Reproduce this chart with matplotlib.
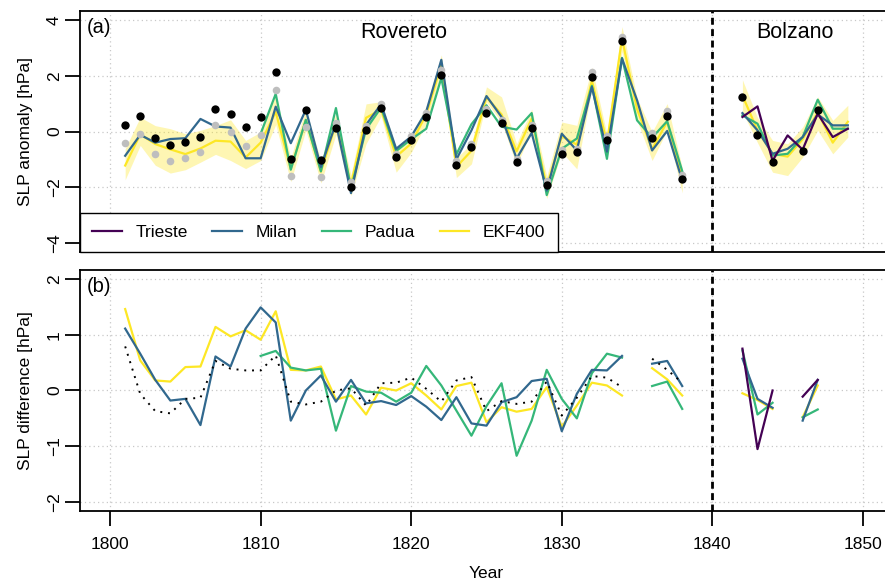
import numpy as np
import matplotlib.pyplot as plt

plt.rcParams['font.family'] = ['Liberation Sans', 'DejaVu Sans']

nan = np.nan

# ---- top panel: SLP anomalies, Rovereto period ----
years_rov = np.arange(1801, 1839)
obs_rov = [0.25, 0.54, -0.25, -0.48, -0.39, -0.18, 0.81, 0.61, 0.15, 0.51,
           2.12, -0.97, 0.77, -1.01, 0.12, -1.99, 0.06, 0.84, -0.90, -0.30,
           0.53, 2.04, -1.19, -0.55, 0.66, 0.31, -1.09, 0.13, -1.91, -0.82,
           -0.74, 1.96, -0.32, 3.24, nan, -0.23, 0.55, -1.72]
obs_rov_grey = [-0.41, -0.09, -0.81, -1.07, -0.94, -0.73, 0.25, 0.00, -0.51, -0.13,
                1.48, -1.60, 0.16, -1.64, 0.30, -1.81, 0.19, 0.97, -0.80, -0.17,
                0.67, 2.19, -1.05, -0.44, 0.82, 0.43, -0.98, 0.22, -1.76, -0.65,
                -0.62, 2.14, -0.17, 3.40, nan, -0.05, 0.72, -1.56]
milan_rov = [-0.87, -0.12, -0.40, -0.27, -0.24, 0.45, 0.18, 0.14, -0.96, -0.96,
             0.89, -0.42, 0.78, -1.27, 0.30, -2.21, 0.24, 0.98, -0.62, -0.18,
             0.72, 2.57, -1.00, 0.04, 1.27, 0.52, -0.97, -0.05, -2.12, -0.08,
             -0.68, 1.60, -0.72, 2.62, 1.12, -0.68, 0.02, -1.76]
padua_rov = [nan, nan, nan, nan, nan, nan, nan, nan, nan, -0.08,
             1.35, -1.37, 0.42, -1.43, 0.84, -2.05, 0.08, 0.86, -0.70, -0.28,
             0.10, 1.92, -0.82, 0.26, 0.94, 0.17, 0.07, 0.66, -2.28, -0.62,
             -0.25, 1.64, -0.98, 2.64, 0.40, -0.22, 0.37, -1.42]
ekf_rov = [-1.22, -0.10, -0.45, -0.64, -0.81, -0.61, -0.33, -0.36, -0.93, -0.40,
           0.70, -1.34, 0.41, -1.44, 0.28, -1.90, 0.49, 0.79, -0.90, -0.43,
           0.62, 2.38, -1.27, -0.69, 1.23, 0.61, -0.71, 0.46, -1.97, -0.17,
           -0.47, 1.82, -0.41, 3.33, 0.80, -0.63, 0.35, -1.63]
ekf_rov_lo = [-1.73, -0.50, -1.21, -1.49, -1.37, -1.10, -0.82, -1.04, -1.33, -1.04,
              0.25, -1.80, 0.05, -1.85, -0.10, -2.30, -0.44, 0.55, -1.46, -0.75,
              0.30, 2.05, -1.65, -1.16, 1.06, 0.34, -1.22, 0.05, -2.40, -0.74,
              -1.34, 1.54, -0.65, 2.86, 0.40, -1.04, 0.05, -2.20]
ekf_rov_hi = [-0.62, 0.51, 0.21, 0.10, -0.08, 0.04, 0.21, 0.42, -0.32, -0.02,
              1.30, -0.95, 0.80, -1.05, 0.65, -1.55, 0.99, 1.07, -0.56, -0.10,
              0.90, 2.75, -0.95, -0.44, 1.60, 1.24, -0.44, 0.80, -1.60, 0.34,
              0.22, 2.30, -0.10, 3.76, 1.20, -0.02, 1.00, -1.30]

# ---- top panel: Bolzano period ----
years_bz = np.arange(1842, 1850)
obs_bz = [1.24, -0.13, -1.10, nan, -0.70, 0.78, nan, nan]
trieste_bz = [0.52, 0.90, -1.05, -0.14, -0.65, 0.64, -0.20, 0.10]
milan_bz = [0.66, 0.04, -0.80, -0.62, -0.20, 0.61, 0.22, 0.22]
padua_bz = [0.58, 0.28, -0.86, -0.80, -0.20, 1.14, 0.10, 0.10]
ekf_bz = [1.29, 0.04, -0.80, -0.90, -0.28, 0.69, -0.40, 0.35]
ekf_bz_lo = [0.70, -0.40, -1.46, -1.58, -0.92, 0.04, -0.80, -0.20]
ekf_bz_hi = [1.85, 0.50, -0.32, -0.44, 0.16, 1.24, 0.40, 0.94]

# ---- bottom panel: SLP differences ----
dmilan_rov = [1.11, 0.66, 0.19, -0.18, -0.15, -0.62, 0.61, 0.43, 1.11, 1.49,
              1.22, -0.54, 0.00, 0.27, -0.20, 0.19, -0.23, -0.19, -0.26, -0.10,
              -0.29, -0.53, -0.12, -0.59, -0.63, -0.21, -0.12, 0.17, 0.21, -0.73,
              -0.06, 0.37, 0.36, 0.62, nan, 0.48, 0.53, 0.08]
dpadua_rov = [nan, nan, nan, nan, nan, nan, nan, nan, nan, 0.62,
              0.71, 0.41, 0.36, 0.39, -0.72, 0.08, -0.02, -0.04, -0.20, -0.04,
              0.44, 0.09, -0.36, -0.81, -0.28, 0.13, -1.17, -0.54, 0.37, -0.15,
              -0.50, 0.31, 0.66, 0.59, nan, 0.08, 0.16, -0.33]
dekf_rov = [1.46, 0.54, 0.18, 0.16, 0.42, 0.43, 1.14, 0.97, 1.08, 0.91,
            1.42, 0.37, 0.36, 0.43, -0.16, -0.09, -0.43, 0.05, 0.00, 0.13,
            -0.09, -0.34, 0.08, 0.14, -0.57, -0.30, -0.38, -0.33, 0.06, -0.65,
            -0.27, 0.14, 0.09, -0.09, nan, 0.40, 0.20, -0.09]
dgrey_rov = [0.79, -0.06, -0.37, -0.41, -0.15, -0.13, 0.53, 0.39, 0.36, 0.36,
             0.63, -0.20, -0.25, -0.20, 0.00, 0.04, -0.27, 0.13, 0.14, 0.23,
             0.03, -0.20, 0.18, 0.24, -0.37, -0.19, -0.24, -0.20, 0.16, -0.45,
             -0.13, 0.26, 0.23, 0.06, nan, 0.57, 0.37, 0.14]
dtrieste_bz = [0.75, -1.05, 0.00, nan, -0.11, 0.19, nan, nan]
dmilan_bz = [0.57, -0.15, -0.31, nan, -0.54, 0.19, nan, nan]
dpadua_bz = [0.72, -0.43, -0.22, nan, -0.48, -0.34, nan, nan]
dekf_bz = [-0.05, -0.17, -0.33, nan, -0.48, 0.09, nan, nan]

series_names = ['Trieste', 'Milan', 'Padua', 'EKF400']
colors = {'Trieste': '#440154', 'Milan': '#31688E', 'Padua': '#35B779', 'EKF400': '#FDE725'}
LW = 1.6
FS = 12.5

fig = plt.figure(figsize=(8.85, 5.81), dpi=100)
W, H = 885, 581
ax1 = fig.add_axes([80 / W, 1 - 252 / H, 813 / W, 241 / H])
ax2 = fig.add_axes([80 / W, 1 - 511 / H, 813 / W, 241 / H])

for ax in (ax1, ax2):
    ax.set_xlim(1798, 1852)
    ax.set_xticks(np.arange(1800, 1851, 10))
    ax.grid(True, color='#c8c8c8', linestyle=(0, (1, 2.5)), linewidth=0.9)
    ax.set_axisbelow(True)
    for sp in ax.spines.values():
        sp.set_linewidth(1.3)
    ax.axvline(1840, color='black', lw=2, linestyle=(0, (2.5, 1.6)), zorder=6)
    ax.tick_params(axis='y', length=11, width=1.3, pad=2, labelsize=FS)

# ---- panel (a) ----
ax1.fill_between(years_rov, ekf_rov_lo, ekf_rov_hi, color=colors['EKF400'], alpha=0.35, lw=0)
ax1.fill_between(years_bz, ekf_bz_lo, ekf_bz_hi, color=colors['EKF400'], alpha=0.35, lw=0)
ax1.plot(years_rov, ekf_rov, color=colors['EKF400'], lw=LW, zorder=3)
ax1.plot(years_bz, ekf_bz, color=colors['EKF400'], lw=LW, zorder=3)
ax1.plot(years_rov, padua_rov, color=colors['Padua'], lw=LW, zorder=3)
ax1.plot(years_bz, padua_bz, color=colors['Padua'], lw=LW, zorder=3)
ax1.plot(years_rov, milan_rov, color=colors['Milan'], lw=LW, zorder=3)
ax1.plot(years_bz, milan_bz, color=colors['Milan'], lw=LW, zorder=3)
ax1.plot(years_bz, trieste_bz, color=colors['Trieste'], lw=LW, zorder=3)
ax1.scatter(years_rov, obs_rov_grey, s=30, color='#bebebe', lw=0, zorder=4)
ax1.scatter(years_rov, obs_rov, s=36, color='black', lw=0, zorder=5)
ax1.scatter(years_bz, obs_bz, s=36, color='black', lw=0, zorder=5)

ax1.set_ylim(-4.32, 4.32)
ax1.set_yticks([-4, -2, 0, 2, 4])
ax1.tick_params(axis='x', length=0, labelbottom=False)
ax1.set_ylabel('SLP anomaly [hPa]', fontsize=FS, labelpad=10)
ax1.text(0.008, 0.97, '(a)', transform=ax1.transAxes, fontsize=14.5, ha='left', va='top')
ax1.text(1819.5, 3.55, 'Rovereto', fontsize=15.5, ha='center', va='center')
ax1.text(1845.5, 3.55, 'Bolzano', fontsize=15.5, ha='center', va='center')

handles = [plt.Line2D([], [], color=colors[n], lw=LW) for n in series_names]
leg = ax1.legend(handles, series_names, loc='lower left', bbox_to_anchor=(0, 0), ncol=4,
                 fontsize=FS, frameon=True, fancybox=False, edgecolor='black',
                 framealpha=1, borderaxespad=0, handlelength=1.7, handletextpad=0.8,
                 columnspacing=1.4, borderpad=0.7)
leg.get_frame().set_linewidth(1.0)
leg.set_zorder(10)

# ---- panel (b) ----
ax2.plot(years_rov, dekf_rov, color=colors['EKF400'], lw=LW, zorder=3)
ax2.plot(years_bz, dekf_bz, color=colors['EKF400'], lw=LW, zorder=3)
ax2.plot(years_rov, dpadua_rov, color=colors['Padua'], lw=LW, zorder=3)
ax2.plot(years_bz, dpadua_bz, color=colors['Padua'], lw=LW, zorder=3)
ax2.plot(years_rov, dmilan_rov, color=colors['Milan'], lw=LW, zorder=3)
ax2.plot(years_bz, dmilan_bz, color=colors['Milan'], lw=LW, zorder=3)
ax2.plot(years_bz, dtrieste_bz, color=colors['Trieste'], lw=LW, zorder=3)
ax2.plot(years_rov, dgrey_rov, color='black', lw=1.4, linestyle=(0, (1, 3)), zorder=4)

ax2.set_ylim(-2.16, 2.16)
ax2.set_yticks([-2, -1, 0, 1, 2])
ax2.tick_params(axis='x', length=11, width=1.3, pad=8, labelsize=FS)
ax2.set_ylabel('SLP difference [hPa]', fontsize=FS, labelpad=10)
ax2.set_xlabel('Year', fontsize=FS, labelpad=10)
ax2.text(0.008, 0.97, '(b)', transform=ax2.transAxes, fontsize=14.5, ha='left', va='top')

for ax in (ax1, ax2):
    for lab in ax.get_yticklabels():
        lab.set_rotation(90)
        lab.set_va('center')

fig.savefig('out.png', dpi=100)
